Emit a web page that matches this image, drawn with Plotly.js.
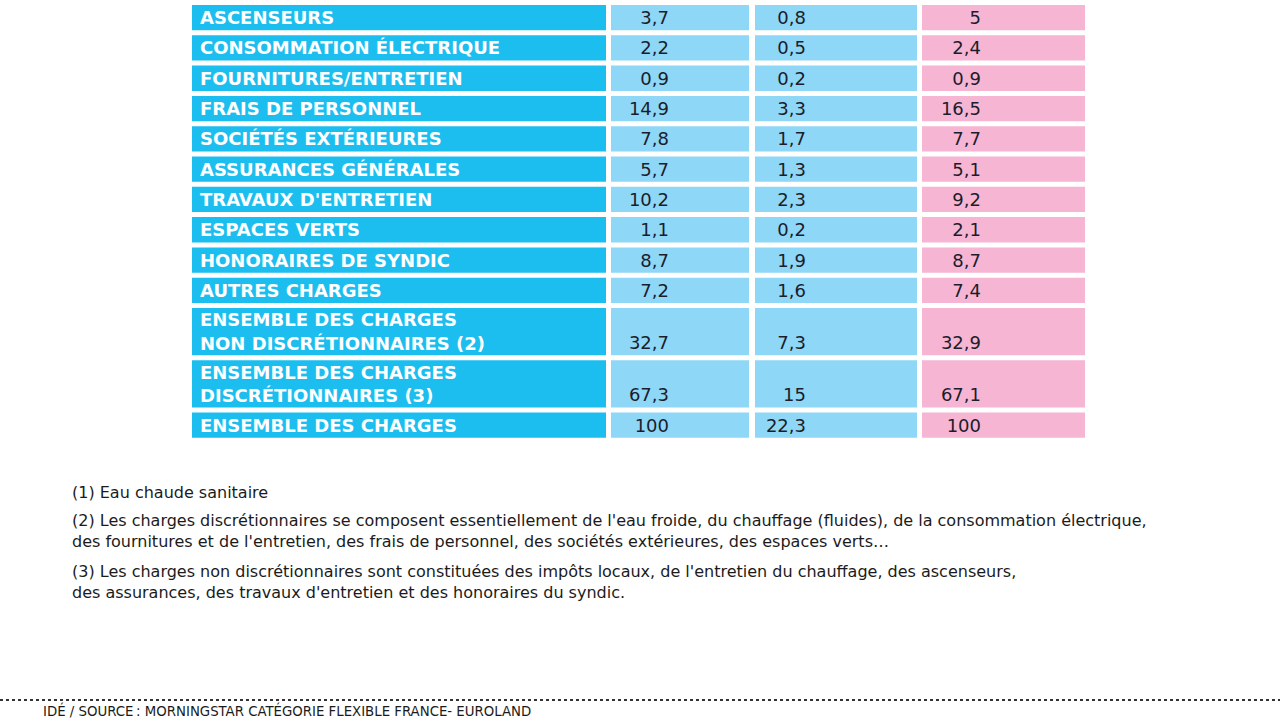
<!DOCTYPE html>
<html>
<head>
<meta charset="utf-8">
<script src="https://cdn.plot.ly/plotly-3.0.1.min.js"></script>
<style>html,body{margin:0;padding:0;background:#fff;}#chart{width:1280px;height:720px;}</style>
</head>
<body>
<div id="chart"></div>
<script>
// ---- data ----
const categories = [
  "ASCENSEURS",
  "CONSOMMATION ÉLECTRIQUE",
  "FOURNITURES/ENTRETIEN",
  "FRAIS DE PERSONNEL",
  "SOCIÉTÉS EXTÉRIEURES",
  "ASSURANCES GÉNÉRALES",
  "TRAVAUX D'ENTRETIEN",
  "ESPACES VERTS",
  "HONORAIRES DE SYNDIC",
  "AUTRES CHARGES",
  "ENSEMBLE DES CHARGES<br>NON DISCRÉTIONNAIRES (2)",
  "ENSEMBLE DES CHARGES<br>DISCRÉTIONNAIRES (3)",
  "ENSEMBLE DES CHARGES"
];
const seriesA = [3.7, 2.2, 0.9, 14.9, 7.8, 5.7, 10.2, 1.1, 8.7, 7.2, 32.7, 67.3, 100];
const seriesB = [0.8, 0.5, 0.2, 3.3, 1.7, 1.3, 2.3, 0.2, 1.9, 1.6, 7.3, 15, 22.3];
const seriesC = [5, 2.4, 0.9, 16.5, 7.7, 5.1, 9.2, 2.1, 8.7, 7.4, 32.9, 67.1, 100];
const footnotes = [
  "(1) Eau chaude sanitaire",
  "(2) Les charges discrétionnaires se composent essentiellement de l'eau froide, du chauffage (fluides), de la consommation électrique,<br>des fournitures et de l'entretien, des frais de personnel, des sociétés extérieures, des espaces verts…",
  "(3) Les charges non discrétionnaires sont constituées des impôts locaux, de l'entretien du chauffage, des ascenseurs,<br>des assurances, des travaux d'entretien et des honoraires du syndic."
];
const sourceText = "IDÉ / SOURCE\u202f: MORNINGSTAR CATÉGORIE FLEXIBLE FRANCE- EUROLAND";

// ---- layout geometry (pixel-like axis units) ----
const W = 1280, H = 720;
const GAP = 5, PITCH = 30.3, EXTRA_LINE = 21.9, TOP = 2.5, TEXT_SHIFT = 2;
const cols = [
  {left: 192, right: 606, color: "#1CBEEF"},
  {left: 611, right: 749, color: "#8ED7F7", anchor: 669},
  {left: 755, right: 917, color: "#8ED7F7", anchor: 806},
  {left: 922, right: 1085, color: "#F6B5D3", anchor: 981}
];
const LABEL_X = 200;
const fmt = v => String(v).replace('.', ',');

const nLines = categories.map(c => c.split('<br>').length);
const centers = [], heights = [];
let y = TOP;
nLines.forEach(n => {
  const p = PITCH + (n - 1) * EXTRA_LINE;
  centers.push(y + p / 2);
  heights.push(p - GAP);
  y += p;
});

const traces = [];
cols.forEach(c => {
  traces.push({
    type: 'bar', orientation: 'h',
    y: centers, x: centers.map(() => c.right - c.left), base: c.left,
    width: heights,
    marker: {color: c.color, line: {width: 0}},
    hoverinfo: 'skip', showlegend: false
  });
});

traces.push({
  type: 'scatter', mode: 'text',
  x: categories.map(() => LABEL_X), y: centers.map(cy => cy + TEXT_SHIFT),
  text: categories, textposition: 'middle right',
  textfont: {family: 'DejaVu Sans', size: 18, color: '#ffffff', weight: 'bold'},
  hoverinfo: 'skip', showlegend: false, cliponaxis: false
});

[seriesA, seriesB, seriesC].forEach((s, i) => {
  traces.push({
    type: 'scatter', mode: 'text',
    x: s.map(() => cols[i + 1].anchor),
    y: centers.map((cy, k) => cy + TEXT_SHIFT + (nLines[k] - 1) * EXTRA_LINE / 2),
    text: s.map(fmt), textposition: 'middle left',
    textfont: {family: 'DejaVu Sans', size: 18, color: '#1b1d2b'},
    hoverinfo: 'skip', showlegend: false, cliponaxis: false
  });
});

const noteY = [492, 531, 582];
const annotations = footnotes.map((t, i) => ({
  xref: 'x', yref: 'y', x: 70, y: noteY[i], xanchor: 'left', yanchor: 'middle',
  align: 'left', showarrow: false, text: t,
  font: {family: 'DejaVu Sans', size: 16, color: '#1b1b1b'}
}));
annotations.push({
  xref: 'x', yref: 'y', x: 41, y: 710, xanchor: 'left', yanchor: 'middle',
  showarrow: false, text: sourceText,
  font: {family: 'Liberation Sans Narrow, DejaVu Sans Condensed, sans-serif', size: 14.8, color: '#1b1b1b'}
});

const layout = {
  width: W, height: H,
  margin: {l: 0, r: 0, t: 0, b: 0},
  paper_bgcolor: '#ffffff', plot_bgcolor: '#ffffff',
  barmode: 'overlay',
  xaxis: {range: [0, W], visible: false, fixedrange: true},
  yaxis: {range: [H, 0], visible: false, fixedrange: true},
  showlegend: false,
  annotations: annotations,
  shapes: [{
    type: 'line', xref: 'x', yref: 'y', x0: 0, x1: W, y0: 700, y1: 700,
    line: {color: '#333333', width: 2, dash: 'dot'}
  }]
};

Plotly.newPlot('chart', traces, layout, {displayModeBar: false, staticPlot: true});
</script>
</body>
</html>
